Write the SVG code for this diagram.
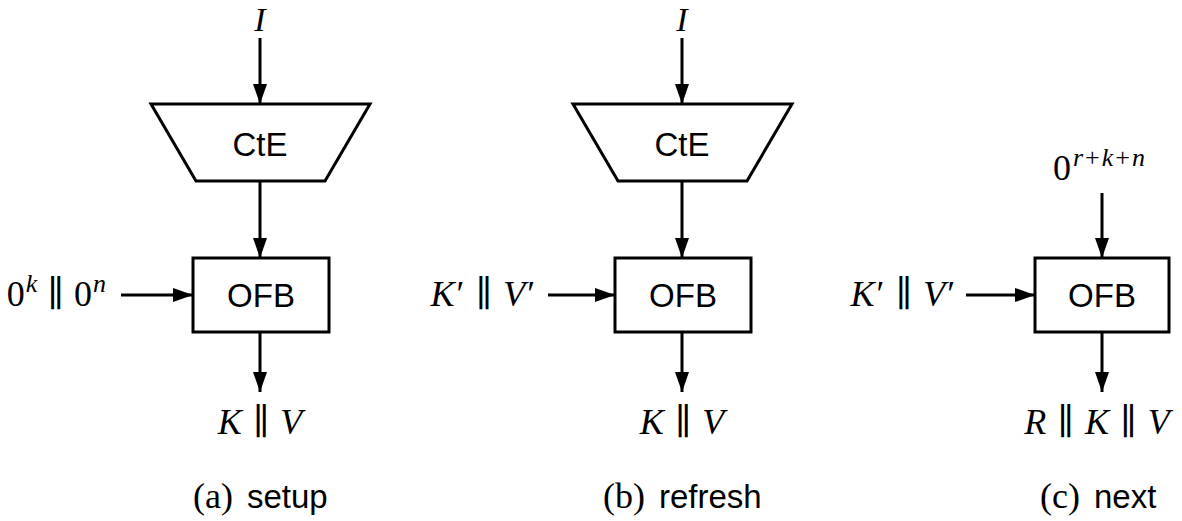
<svg xmlns="http://www.w3.org/2000/svg" width="1182" height="521" viewBox="0 0 1182 521">
<style>
.box{fill:#fff;stroke:#000;stroke-width:3}
.con{stroke:#000;stroke-width:3;fill:none;marker-end:url(#ah)}
.sans{font-family:"Liberation Sans","DejaVu Sans",sans-serif;font-size:33px;fill:#000}
.m{font-family:"Liberation Serif","DejaVu Serif",serif;font-size:36px;fill:#000}
.i{font-style:italic}
.sup{font-size:26px}
.top{font-size:34px}
</style>
<defs>
<marker id="ah" markerUnits="userSpaceOnUse" markerWidth="20" markerHeight="14" refX="20" refY="7" orient="auto">
<path d="M0,0 L20,7 L0,14 z" fill="#000"/>
</marker>
</defs>
<rect width="1182" height="521" fill="#fff"/>
<g id="connectors">
<line class="con" x1="260" y1="38" x2="260" y2="104"/>
<line class="con" x1="260" y1="181" x2="260" y2="258"/>
<line class="con" x1="121" y1="295" x2="193" y2="295"/>
<line class="con" x1="260" y1="332" x2="260" y2="392"/>
<line class="con" x1="682" y1="38" x2="682" y2="104"/>
<line class="con" x1="682" y1="181" x2="682" y2="258"/>
<line class="con" x1="548" y1="295" x2="615" y2="295"/>
<line class="con" x1="682" y1="332" x2="682" y2="392"/>
<line class="con" x1="1102" y1="193" x2="1102" y2="258"/>
<line class="con" x1="966" y1="295" x2="1035" y2="295"/>
<line class="con" x1="1102" y1="332" x2="1102" y2="392"/>
</g>
<g id="a-cte">
<polygon class="box" points="151,104 370,104 325,181 196,181"/>
<text class="sans" x="260" y="156" text-anchor="middle">CtE</text>
</g>
<g id="a-ofb">
<rect class="box" x="193" y="258" width="136" height="74"/>
<text class="sans" x="261" y="307" text-anchor="middle">OFB</text>
</g>
<g id="b-cte">
<polygon class="box" points="573,104 792,104 747,181 618,181"/>
<text class="sans" x="682" y="156" text-anchor="middle">CtE</text>
</g>
<g id="b-ofb">
<rect class="box" x="615" y="258" width="136" height="74"/>
<text class="sans" x="683" y="307" text-anchor="middle">OFB</text>
</g>
<g id="c-ofb">
<rect class="box" x="1035" y="258" width="134" height="74"/>
<text class="sans" x="1102" y="307" text-anchor="middle">OFB</text>
</g>
<g id="labels">
<text class="m i top" x="260" y="31" text-anchor="middle">I</text>
<text class="m" x="106" y="306" text-anchor="end">0<tspan class="sup i" dx="1" dy="-14">k</tspan><tspan dx="10" dy="14">∥</tspan><tspan dx="10">0</tspan><tspan class="sup i" dx="1" dy="-14">n</tspan></text>
<text class="m" x="260" y="434" text-anchor="middle"><tspan class="i">K</tspan><tspan dx="11">∥</tspan><tspan class="i" dx="11">V</tspan></text>
<text x="193" y="508"><tspan class="m">(a)</tspan><tspan class="sans" dx="14">setup</tspan></text>

<text class="m i top" x="682" y="31" text-anchor="middle">I</text>
<text class="m" x="535" y="306" text-anchor="end"><tspan class="i">K</tspan><tspan dx="2">′</tspan><tspan dx="11">∥</tspan><tspan class="i" dx="11">V</tspan><tspan dx="2">′</tspan></text>
<text class="m" x="682" y="434" text-anchor="middle"><tspan class="i">K</tspan><tspan dx="11">∥</tspan><tspan class="i" dx="11">V</tspan></text>
<text x="603" y="508"><tspan class="m">(b)</tspan><tspan class="sans" dx="14">refresh</tspan></text>

<text class="m" x="1099" y="180" text-anchor="middle">0<tspan class="sup i" dx="2" dy="-14">r</tspan><tspan class="sup" dx="2">+</tspan><tspan class="sup i" dx="2">k</tspan><tspan class="sup" dx="2">+</tspan><tspan class="sup i" dx="2">n</tspan></text>
<text class="m" x="955" y="306" text-anchor="end"><tspan class="i">K</tspan><tspan dx="2">′</tspan><tspan dx="11">∥</tspan><tspan class="i" dx="11">V</tspan><tspan dx="2">′</tspan></text>
<text class="m" x="1097" y="434" text-anchor="middle"><tspan class="i">R</tspan><tspan dx="11">∥</tspan><tspan class="i" dx="11">K</tspan><tspan dx="11">∥</tspan><tspan class="i" dx="11">V</tspan></text>
<text x="1040" y="508"><tspan class="m">(c)</tspan><tspan class="sans" dx="14">next</tspan></text>
</g>
</svg>
